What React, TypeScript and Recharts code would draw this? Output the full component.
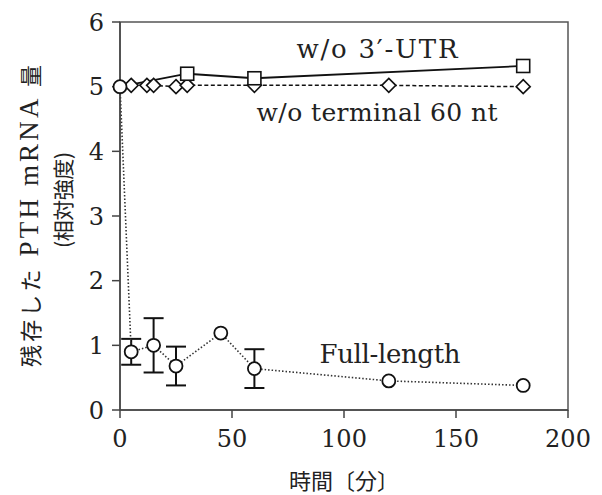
import { LineChart, Line, XAxis, YAxis, ErrorBar, ReferenceArea } from 'recharts';

// Full-length
const fullTime = [0, 5, 15, 25, 45, 60, 120, 180];
const fullValue = [5, 0.9, 1.0, 0.68, 1.19, 0.64, 0.45, 0.38];
const fullError = [0, 0.2, 0.42, 0.3, 0, 0.3, 0, 0];

// w/o 3'-UTR
const utrTime = [0, 30, 60, 180];
const utrValue = [5, 5.2, 5.13, 5.32];

// w/o terminal 60 nt
const termTime = [0, 5, 12, 15, 25, 30, 60, 120, 180];
const termValue = [5, 5.02, 5.02, 5.02, 5.0, 5.02, 5.02, 5.02, 5.0];

const xTicks = [0, 50, 100, 150, 200];
const yTicks = [0, 1, 2, 3, 4, 5, 6];

const fullData = fullTime.map((t, i) => ({ t, v: fullValue[i], err: fullError[i] }));
const utrData = utrTime.map((t, i) => ({ t, v: utrValue[i] }));
const termData = termTime.map((t, i) => ({ t, v: termValue[i] }));

const serif = '"DejaVu Serif", "Noto Sans CJK JP", serif';
const lib = '"Liberation Serif", serif';
const jp = '"Noto Sans CJK JP", sans-serif';

// markers at t=0 sit under the circle, so only the circle is drawn there
const Circle = (p: any) => (
  <circle key={p.index} cx={p.cx} cy={p.cy} r={6.5} fill="#fff" stroke="#111" strokeWidth={1.8} />
);
const Square = (p: any) =>
  p.index === 0 ? (
    <g key={p.index} />
  ) : (
    <rect key={p.index} x={p.cx - 6.5} y={p.cy - 6.5} width={13} height={13} fill="#fff" stroke="#111" strokeWidth={1.6} />
  );
const Diamond = (p: any) =>
  p.index === 0 ? (
    <g key={p.index} />
  ) : (
    <path
      key={p.index}
      d={`M${p.cx},${p.cy - 7} L${p.cx + 7},${p.cy} L${p.cx},${p.cy + 7} L${p.cx - 7},${p.cy} Z`}
      fill="#fff"
      stroke="#111"
      strokeWidth={1.6}
    />
  );

export default function App() {
  return (
    <div style={{ position: 'absolute', left: 0, top: 0, background: '#fff' }}>
      <LineChart width={602} height={495} margin={{ top: 22, right: 34, bottom: 0, left: 60 }}>
        <XAxis
          dataKey="t"
          type="number"
          domain={[0, 200]}
          ticks={xTicks}
          allowDuplicatedCategory={false}
          height={85}
          tickSize={8}
          tickMargin={12}
          stroke="#444"
          strokeWidth={1.5}
          tick={{ fill: '#222', fontSize: 24, fontFamily: serif }}
          label={{ value: '時間〔分〕', position: 'insideBottom', offset: 6, fill: '#222', fontSize: 22, fontFamily: jp }}
        />
        <YAxis
          type="number"
          domain={[0, 6]}
          ticks={yTicks}
          width={60}
          tickSize={8}
          tickMargin={8}
          stroke="#444"
          strokeWidth={1.5}
          tick={{ fill: '#222', fontSize: 24, fontFamily: serif }}
        />
        <ReferenceArea x1={0} x2={200} y1={0} y2={6} fill="none" stroke="#555" strokeWidth={1.5} />
        <Line
          data={termData}
          dataKey="v"
          stroke="#111"
          strokeWidth={1.5}
          strokeDasharray="4 2.5"
          dot={Diamond}
          isAnimationActive={false}
        />
        <Line
          data={utrData}
          dataKey="v"
          stroke="#111"
          strokeWidth={1.8}
          dot={Square}
          isAnimationActive={false}
        />
        <Line
          data={fullData}
          dataKey="v"
          stroke="#333"
          strokeWidth={1.6}
          strokeDasharray="1.5 2"
          dot={Circle}
          isAnimationActive={false}
        >
          <ErrorBar dataKey="err" direction="y" width={10} stroke="#111" strokeWidth={2} />
        </Line>
        <g style={{ opacity: 0.995 }}>
          <text
            x={29}
            y={216}
            transform="rotate(-90 29 216)"
            textAnchor="middle"
            dominantBaseline="central"
            fill="#222"
            textLength={302}
            lengthAdjust="spacing"
          >
            <tspan fontFamily={jp} fontSize={22}>残存した</tspan>
            <tspan fontFamily={lib} fontSize={27}> PTH mRNA </tspan>
            <tspan fontFamily={jp} fontSize={22}>量</tspan>
          </text>
          <text
            x={62}
            y={200}
            transform="rotate(-90 62 200)"
            textAnchor="middle"
            dominantBaseline="central"
            fontSize={21}
            fontFamily={jp}
            fill="#222"
            textLength={96}
            lengthAdjust="spacing"
          >
            (相対強度)
          </text>
        </g>
        <text x={377} y={49} textAnchor="middle" dominantBaseline="central" fontSize={26} fontFamily={serif} fill="#222" textLength={161} lengthAdjust="spacing">
          w/o 3′-UTR
        </text>
        <text x={377} y={112} textAnchor="middle" dominantBaseline="central" fontSize={25} fontFamily={serif} fill="#222" textLength={241} lengthAdjust="spacing">
          w/o terminal 60 nt
        </text>
        <text x={390} y={354} textAnchor="middle" dominantBaseline="central" fontSize={26} fontFamily={serif} fill="#222" textLength={141} lengthAdjust="spacing">
          Full-length
        </text>
      </LineChart>
    </div>
  );
}
